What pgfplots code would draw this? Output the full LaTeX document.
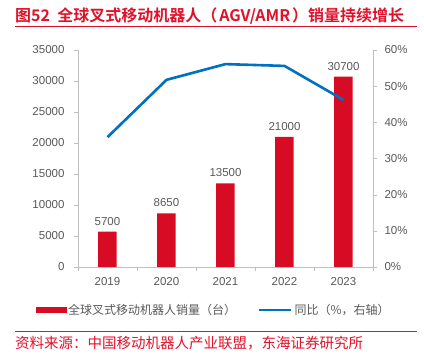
\documentclass[border=0pt]{standalone}
\usepackage{fontspec}
\usepackage{pgfplots}
\pgfplotsset{compat=1.18}
\setmainfont{Liberation Sans}
\newfontfamily\cjk{Noto Sans CJK SC}
\newfontfamily\cjkb{Noto Sans CJK SC Bold}
\definecolor{barred}{RGB}{215,12,36}
\definecolor{titlered}{RGB}{224,17,43}
\definecolor{lineblue}{RGB}{0,112,192}
\definecolor{tickgray}{RGB}{89,89,89}
\definecolor{axgray}{RGB}{191,191,191}
\begin{document}
\begin{tikzpicture}
\path[use as bounding box] (0pt,0pt) rectangle (424pt,357pt);
\node[anchor=west, text=titlered, font=\cjkb\fontsize{16}{18}\selectfont, inner sep=0pt] at (15pt,341pt) {图52\ \ 全球叉式移动机器人（\kern2pt AGV/AMR\kern2pt）销量持续增长};
\draw[titlered, line width=1pt] (15pt,330pt) -- (417pt,330pt);
\draw[titlered, line width=1pt] (15pt,26pt) -- (417pt,26pt);
\node[anchor=west, text=titlered, font=\cjk\fontsize{14.5}{16}\selectfont, inner sep=0pt] at (15pt,14pt) {资料来源：中国移动机器人产业联盟，东海证券研究所};
\begin{axis}[
  at={(78pt,90pt)}, anchor=south west,
  scale only axis, width=295pt, height=217pt,
  xmin=-0.5, xmax=4.5, ymin=0, ymax=35000,
  axis x line*=bottom, axis y line*=left,
  axis line style={draw=axgray},
  xtick={0,1,2,3,4}, xticklabels={2019,2020,2021,2022,2023},
  xtick style={draw=none},
  minor xtick={-0.5,0.5,1.5,2.5,3.5,4.5},
  minor x tick style={draw=axgray},
  ytick={0,5000,...,35000},
  scaled y ticks=false,
  ytick style={draw=axgray},
  tick align=outside, major tick length=4pt, minor tick length=4pt,
  /pgf/number format/assume math mode=true,
  /pgf/number format/1000 sep={},
  tick label style={text=tickgray, font=\fontsize{11.5}{13}\selectfont},
  xticklabel style={yshift=-3pt},
  yticklabel style={xshift=-6pt},
  ybar, bar width=18.5pt,
  nodes near coords,
  nodes near coords style={text=tickgray, font=\fontsize{11.5}{13}\selectfont, yshift=3pt, /pgf/number format/1000 sep={}},
  clip=false,
]
\addplot[fill=barred, draw=none] coordinates {(0,5700) (1,8650) (2,13500) (3,21000) (4,30700)};
\end{axis}
\begin{axis}[
  at={(78pt,90pt)}, anchor=south west,
  scale only axis, width=295pt, height=217pt,
  xmin=-0.5, xmax=4.5, ymin=0, ymax=60,
  axis x line=none, axis y line*=right,
  axis line style={draw=axgray},
  ytick={0,10,...,60},
  yticklabel={\pgfmathprintnumber{\tick}\%},
  ytick style={draw=axgray},
  tick align=outside, major tick length=4pt,
  /pgf/number format/assume math mode=true,
  tick label style={text=tickgray, font=\fontsize{11.5}{13}\selectfont},
  yticklabel style={xshift=4pt},
  legend columns=2,
  legend style={at={(axis description cs:0.46,-0.198)}, anchor=center, draw=none, fill=none,
    font=\cjk\fontsize{12}{14}\selectfont, text=tickgray,
    /tikz/every even column/.append style={column sep=20pt}},
  clip=false,
]
\addlegendimage{legend image code/.code={\fill[barred] (0pt,-2.5pt) rectangle (30pt,2.5pt);}}
\addlegendentry{全球叉式移动机器人销量（台）}
\addplot[lineblue, line width=2.6pt, line join=round, legend image code/.code={\draw[lineblue, line width=2.4pt] (0pt,0pt) -- (32pt,0pt);}] coordinates {(0,35.9) (1,51.75) (2,56.1) (3,55.6) (4,46.2)};
\addlegendentry{同比（\%，右轴）}
\end{axis}
\end{tikzpicture}
\end{document}
